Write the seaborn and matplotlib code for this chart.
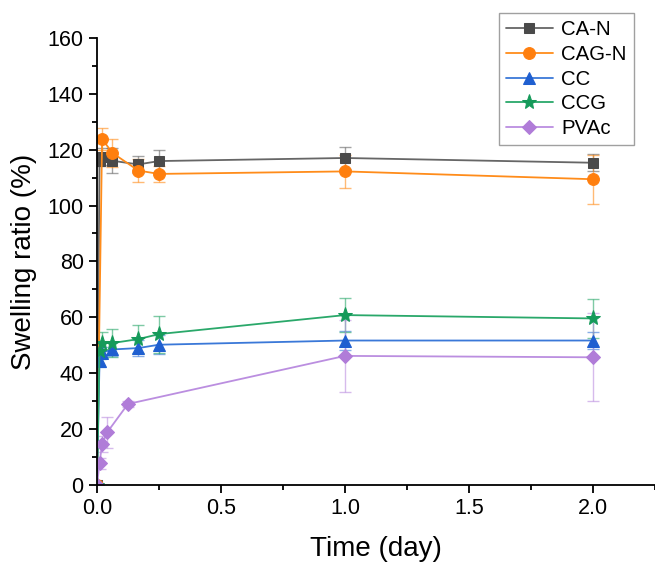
import matplotlib
matplotlib.use('Agg')
import matplotlib.pyplot as plt
import seaborn as sns
import numpy as np
import pandas as pd

# time in days (points at 15 min, 30 min, 1.5 h, 4 h, 6 h, 1 d, 2 d ...)
t_can = [0, 0.0104, 0.0208, 0.0625, 0.167, 0.25, 1, 2]
y_can = [0, 116, 117.5, 116, 114.7, 115.9, 117, 115.3]
e_can = [0, 2, 3, 4.5, 3, 4, 4, 3]

t_cagn = [0, 0.0208, 0.0625, 0.167, 0.25, 1, 2]
y_cagn = [0, 123.8, 118.8, 112.5, 111.3, 112.2, 109.4]
e_cagn = [0, 4, 5, 4, 3, 6, 8.8]

t_cc = [0, 0.0104, 0.0208, 0.0625, 0.167, 0.25, 1, 2]
y_cc = [0, 44.2, 47.4, 48.5, 49, 50.2, 51.7, 51.7]
e_cc = [0, 2, 2, 2.5, 3, 3.5, 3.5, 3]

t_ccg = [0, 0.0104, 0.0208, 0.0625, 0.167, 0.25, 1, 2]
y_ccg = [0, 48, 50.8, 50.8, 52.2, 54, 60.8, 59.6]
e_ccg = [0, 3, 4, 5, 5, 6.6, 6, 7]

t_pvac = [0, 0.0104, 0.0208, 0.0417, 0.125, 1, 2]
y_pvac = [0, 7.8, 14.7, 18.9, 29, 46.2, 45.7]
e_pvac = [0, 2, 3, 5.6, 1, 13, 15.8]

names = ['CA-N', 'CAG-N', 'CC', 'CCG', 'PVAc']
series = [(t_can, y_can, e_can), (t_cagn, y_cagn, e_cagn), (t_cc, y_cc, e_cc),
          (t_ccg, y_ccg, e_ccg), (t_pvac, y_pvac, e_pvac)]
colors = ['#4a4a4a', '#ff7f0e', '#1f5fd0', '#159a5a', '#b07cd8']
line_colors = ['#666666', '#ff8c1a', '#3a78d8', '#2aa86a', '#bb8ee0']
markers = ['s', 'o', '^', '*', 'D']
msizes = [7.5, 8.5, 9, 11, 7.5]

rows = []
for n, (t, y, e) in zip(names, series):
    for ti, yi, ei in zip(t, y, e):
        rows.append({'time': ti, 'ratio': yi, 'err': ei, 'sample': n})
df = pd.DataFrame(rows)

sns.set_style('ticks', {'axes.edgecolor': 'black', 'xtick.color': 'black',
                        'ytick.color': 'black', 'text.color': 'black',
                        'axes.labelcolor': 'black'})
plt.rcParams['font.family'] = ['Liberation Sans', 'DejaVu Sans']

fig = plt.figure(figsize=(6.55, 5.64), dpi=100)
ax = fig.add_axes([0.148, 0.14, 0.852, 0.793])

for n, c, lc, m, ms in zip(names, colors, line_colors, markers, msizes):
    d = df[df['sample'] == n]
    ax.errorbar(d['time'], d['ratio'], yerr=d['err'], fmt='none',
                ecolor=lc, alpha=0.6, elinewidth=1, capsize=4, capthick=1, zorder=1)
    sns.lineplot(data=d, x='time', y='ratio', color=lc, linewidth=1.3,
                 marker=m, markersize=ms, markerfacecolor=c, markeredgecolor=c,
                 label=n, ax=ax, zorder=2)

ax.set_xlim(0, 2.25)
ax.set_ylim(0, 160)
ax.set_xticks([0, 0.5, 1.0, 1.5, 2.0])
ax.set_xticks(np.arange(0, 2.3, 0.25), minor=True)
ax.set_yticks(np.arange(0, 161, 20))
ax.set_yticks(np.arange(0, 161, 10), minor=True)
ax.tick_params(axis='both', which='major', labelsize=15.5, length=6, width=1.3,
               colors='black')
ax.tick_params(axis='both', which='minor', length=3.5, width=1.3, colors='black')
for s in ['left', 'bottom']:
    ax.spines[s].set_linewidth(1.3)
    ax.spines[s].set_color('black')
sns.despine(ax=ax)
ax.spines['left'].set_zorder(5)

ax.set_xlabel('Time (day)', fontsize=20, labelpad=12, color='black')
ax.set_ylabel('Swelling ratio (%)', fontsize=20, labelpad=8, color='black')

leg = ax.legend(loc='upper right', bbox_to_anchor=(0.98, 1.078), fontsize=14.7,
                frameon=True, fancybox=False, edgecolor='#888888',
                handlelength=2.3, labelspacing=0.28, borderpad=0.35, handletextpad=0.4)
leg.get_frame().set_linewidth(1)
for txt in leg.get_texts():
    txt.set_color('black')

fig.savefig('out.png', dpi=100, facecolor='white')
